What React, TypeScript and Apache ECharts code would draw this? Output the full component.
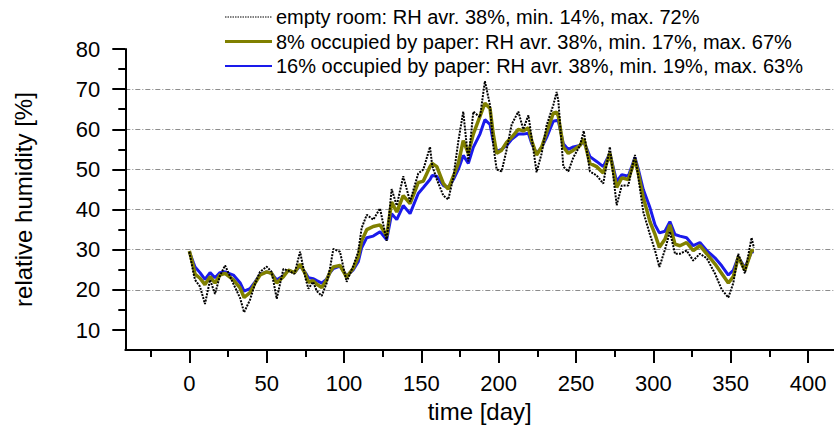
import React, { useEffect, useRef } from "react";
import * as echarts from "echarts";

// time [day]
const days = [
  0, 2.6, 3.7, 6.9, 10.1, 13.4, 16.6, 19.8, 23.1, 28.5, 32.8, 35.4, 39.2, 42.5, 45.7, 50, 53.2, 56.5, 60.8, 64,
  68, 71.6, 75, 77, 80, 82.4, 85.6, 88.8, 91, 93.1, 97.4, 101.7, 106, 109.2, 111.4, 114.7, 118.9, 123.3, 127.6,
  130.8, 134.1, 138.3, 142.7, 148, 151.3, 155.6, 157, 160, 164.2, 167.4, 170.7, 173.9, 177.1, 180.4, 183.6,
  187.9, 191.1, 194.4, 196.5, 198.7, 201.9, 205.2, 208.4, 212.7, 215.9, 219.2, 221.3, 224.5, 227.8, 231, 235.3,
  237.5, 238.6, 241.8, 245, 248.3, 252.6, 255, 259, 263.3, 267.6, 271.9, 276.3, 279.6, 283.8, 288.1, 290.3,
  293.5, 297.8, 301.1, 303.9, 307.5, 310.7, 314, 317.2, 321.5, 325.8, 330.1, 334.5, 339.8, 344.2, 348.5, 351.7,
  354.9, 359.2, 363.5, 365,
];

// relative humidity [%], empty room
const rhEmptyRoom = [
  29.5, 24.3, 22.5, 20.8, 16.5, 22.5, 19, 23.5, 26.1, 21.5, 18, 14.4, 17.5, 21.5, 24.5, 25.8, 24.5, 17.8, 25.2, 24.8,
  24, 29.5, 23, 20.3, 22, 19.7, 18.5, 21.7, 25.5, 30.2, 29.5, 22, 26, 29.5, 35.4, 38.7, 37.5, 40.3, 32.2,
  45.1, 41, 48.3, 42, 49, 50, 55.6, 51, 47.5, 43.5, 42.5, 48, 57, 64.4, 52, 64.4,
  63, 72, 66, 56, 50, 49.5, 55, 61.2, 64.4, 60, 63.5, 58, 49.3, 54, 61, 66,
  69.3, 67, 50.7, 49.5, 53, 56, 59.6, 49.5, 48.5, 46.5, 55.6, 41.1, 46, 46, 53.6, 48,
  39.4, 33.8, 29.8, 25.7, 30, 34.5, 29, 29, 29.8, 27.3, 29, 27.9, 24.1, 20.1, 18.1, 21.7,
  29, 24.1, 33, 30.5,
];

// relative humidity [%], 8% occupied by paper
const rhPaper8 = [
  29.7, 25.9, 23.9, 22.9, 21.3, 23.3, 21.7, 23.7, 24.1, 22.5, 20.5, 18.1, 19.3, 21.7, 23.7, 24.5, 24.1, 21.7, 23.3, 24.9,
  24.3, 26.4, 24, 21.9, 22.3, 21.4, 20.6, 22.5, 24.5, 25.7, 26.1, 23.2, 25.4, 28.2, 32.2, 35, 35.8, 36.2, 33.4,
  41.9, 39.4, 43.5, 41.5, 46.7, 47.1, 50.7, 51.5, 50.7, 46.5, 45.1, 48.3, 51.5, 57.2, 54, 58.8,
  63.2, 66.5, 65.2, 58.8, 54, 54.8, 56.8, 58, 60, 59.6, 60.4, 57.2, 53.6, 55.6, 59.2, 64,
  64.3, 63.2, 55.6, 54, 54.8, 56, 57.6, 51.5, 50.7, 49.1, 54, 45.5, 47.9, 47.5, 52.5, 49,
  43, 37, 33.8, 30.6, 32.6, 36.2, 31.4, 31, 31.8, 29.8, 31, 29, 26.5, 24.1, 21.7, 23.3,
  28.2, 24.9, 29.8, 29.8,
];

// relative humidity [%], 16% occupied by paper
const rhPaper16 = [
  29.5, 26.8, 25.7, 24.3, 22.6, 24.3, 23, 24.3, 24.5, 23.7, 21.8, 19.7, 20.3, 22, 23.9, 24.5, 24.1, 22.5, 23.5, 24.9,
  24.3, 26, 24.3, 23, 22.8, 22.3, 21.7, 22.7, 24.3, 25.3, 25.9, 23.5, 25, 27, 30.5, 33, 33.4, 34.5, 32.5,
  39, 37.5, 41, 39, 44, 45.5, 47.5, 48.5, 48.3, 46, 45.5, 47.5, 50, 53.5, 51.5, 55.5,
  58.8, 62.4, 61.2, 57, 54.5, 55, 56, 57.5, 58.8, 58.8, 59, 56.5, 54, 55.5, 58, 62,
  62.2, 62, 56.4, 55, 55.6, 56, 57, 53.2, 52, 50.7, 54, 47, 48.7, 48.3, 53, 50,
  45, 40.5, 36.2, 34.2, 34.6, 37, 33.8, 33.4, 33, 31, 31.8, 29.8, 28, 26, 23.7, 24.9,
  28.2, 25.5, 29.5, 29.5,
];

const seriesNames = [
  "empty room: RH avr. 38%, min. 14%, max. 72%",
  "8% occupied by paper: RH avr. 38%, min. 17%, max. 67%",
  "16% occupied by paper: RH avr. 38%, min. 19%, max. 63%",
];

const xMajorTicks = [0, 50, 100, 150, 200, 250, 300, 350, 400];
const xMinorTicks = [-25, 25, 75, 125, 175, 225, 275, 325, 375];
const yMajorTicks = [10, 20, 30, 40, 50, 60, 70, 80];
const yMinorTicks = [15, 25, 35, 45, 55, 65, 75];

const FONT = "'Liberation Sans', Arial, Helvetica, sans-serif";
const BLACK = "#000000";
const OLIVE = "#808000";
const BLUE = "#1a1aeb";

export default function App() {
  const ref = useRef<HTMLDivElement>(null);

  useEffect(() => {
    if (!ref.current) return;
    const chart = echarts.init(ref.current, undefined, { renderer: "svg" });

    const X_MIN = -41.4;
    const X_MAX = 416.8;
    const Y_MIN = 5;
    const Y_MAX = 80;

    const pairs = (vals: number[]) => days.map((d, i) => [d, vals[i]]);

    const legendRows = [
      { name: seriesNames[0], color: BLACK, width: 1, dash: [1.5, 1] as number[] | null },
      { name: seriesNames[1], color: OLIVE, width: 3, dash: null },
      { name: seriesNames[2], color: BLUE, width: 2, dash: null },
    ];

    const legendGraphics: any[] = [];
    legendRows.forEach((r, i) => {
      const y = 17 + i * 24.5;
      legendGraphics.push({
        type: "line",
        shape: { x1: 225, y1: y, x2: 272, y2: y },
        style: { stroke: r.color, lineWidth: r.width, lineDash: r.dash || undefined },
        silent: true,
      });
      legendGraphics.push({
        type: "text",
        x: 276,
        y: y,
        style: {
          text: r.name,
          fill: "#000",
          fontSize: 20,
          fontFamily: FONT,
          align: "left",
          verticalAlign: "middle",
        },
        silent: true,
      });
    });

    chart.setOption({
      animation: false,
      backgroundColor: "#ffffff",
      grid: { left: 125.3, right: 0, top: 49, bottom: 69, containLabel: false },
      xAxis: [
        {
          type: "value",
          min: X_MIN,
          max: X_MAX,
          position: "bottom",
          axisLine: { show: true, onZero: false, lineStyle: { color: BLACK, width: 2 } },
          axisTick: { show: true, inside: false, length: 13, customValues: xMajorTicks, lineStyle: { color: BLACK, width: 2 } },
          axisLabel: { show: true, customValues: xMajorTicks, color: BLACK, fontSize: 22, fontFamily: FONT, margin: 22 },
          splitLine: { show: false },
          name: "time [day]",
          nameLocation: "middle",
          nameGap: 40,
          nameTextStyle: { color: BLACK, fontSize: 24, fontFamily: FONT },
        },
        {
          type: "value",
          min: X_MIN,
          max: X_MAX,
          position: "bottom",
          axisLine: { show: false, onZero: false },
          axisTick: { show: true, inside: false, length: 7, customValues: xMinorTicks, lineStyle: { color: BLACK, width: 2 } },
          axisLabel: { show: false },
          splitLine: { show: false },
        },
      ],
      yAxis: [
        {
          type: "value",
          min: Y_MIN,
          max: Y_MAX,
          position: "left",
          axisLine: { show: true, onZero: false, lineStyle: { color: BLACK, width: 2 } },
          axisTick: { show: true, inside: false, length: 13, customValues: yMajorTicks, lineStyle: { color: BLACK, width: 2 } },
          axisLabel: { show: true, customValues: yMajorTicks, color: BLACK, fontSize: 22, fontFamily: FONT, margin: 25 },
          splitLine: {
            show: true,
            showMinLine: false,
            showMaxLine: false,
            lineStyle: { color: "#8c8c8c", width: 1, type: [5, 2, 1, 2] },
          },
          name: "relative humidity [%]",
          nameLocation: "middle",
          nameRotate: 90,
          nameGap: 90,
          nameTextStyle: { color: BLACK, fontSize: 24, fontFamily: FONT },
        },
        {
          type: "value",
          min: Y_MIN,
          max: Y_MAX,
          position: "left",
          axisLine: { show: false, onZero: false },
          axisTick: { show: true, inside: false, length: 7, customValues: yMinorTicks, lineStyle: { color: BLACK, width: 2 } },
          axisLabel: { show: false },
          splitLine: { show: false },
        },
      ],
      series: [
        {
          type: "line",
          name: seriesNames[2],
          data: pairs(rhPaper16),
          symbol: "none",
          z: 2,
          lineStyle: { color: BLUE, width: 3 },
        },
        {
          type: "line",
          name: seriesNames[1],
          data: pairs(rhPaper8),
          symbol: "none",
          z: 3,
          lineStyle: { color: OLIVE, width: 3.5 },
        },
        {
          type: "line",
          name: seriesNames[0],
          data: pairs(rhEmptyRoom),
          symbol: "none",
          z: 4,
          lineStyle: { color: BLACK, width: 2, type: [2, 1.2] },
        },
      ],
      graphic: legendGraphics,
    });

    return () => chart.dispose();
  }, []);

  return (
    <div
      ref={ref}
      style={{ position: "fixed", left: 0, top: 0, width: 834, height: 428, background: "#fff" }}
    />
  );
}
